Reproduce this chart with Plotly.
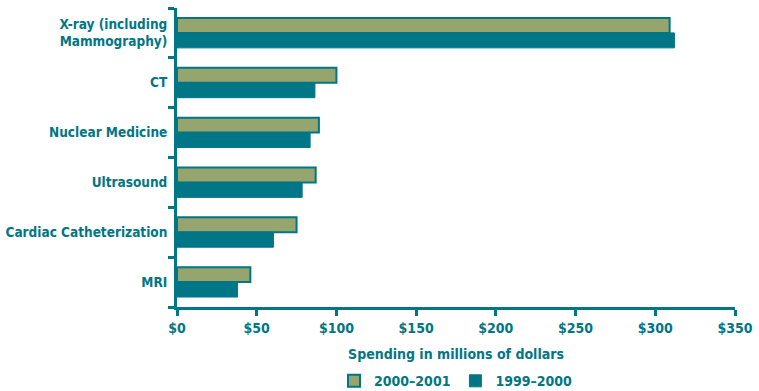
import plotly.graph_objects as go

categories = ["X-ray (including<br>Mammography)", "CT", "Nuclear Medicine", "Ultrasound",
              "Cardiac Catheterization", "MRI"]
spend_2000_2001 = [309, 100, 89, 87, 75, 46]
spend_1999_2000 = [312, 86.5, 83.5, 78.5, 60.5, 38]
x_ticks = [0, 50, 100, 150, 200, 250, 300, 350]
x_tick_labels = ["$0", "$50", "$100", "$150", "$200", "$250", "$300", "$350"]

TEAL = "#007686"
GREEN = "#95A56D"
FONT = "DejaVu Sans Condensed, Roboto, sans-serif"

fig = go.Figure()
fig.add_trace(go.Bar(
    y=categories, x=spend_2000_2001, orientation="h", name="<b>2000–2001</b>",
    marker=dict(color=GREEN, line=dict(color=TEAL, width=2)),
))
fig.add_trace(go.Bar(
    y=categories, x=spend_1999_2000, orientation="h", name="<b>1999–2000</b>",
    marker=dict(color=TEAL, line=dict(color=TEAL, width=1)),
))

fig.update_layout(
    width=759, height=391,
    margin=dict(l=177, r=24, t=8, b=84, autoexpand=False),
    paper_bgcolor="white", plot_bgcolor="white",
    barmode="group", bargap=0.4, bargroupgap=0,
    font=dict(family=FONT, size=13, color=TEAL),
    showlegend=True,
    legend=dict(orientation="h", x=0.50, xanchor="center",
                yref="container", y=0.025, yanchor="middle",
                font=dict(family=FONT, size=14, color=TEAL), traceorder="normal",
                itemwidth=30, tracegroupgap=0),
    xaxis=dict(
        range=[0, 350], tickvals=x_ticks,
        ticktext=["<b>" + t + "</b>" for t in x_tick_labels],
        showgrid=False, zeroline=False, automargin=False,
        showline=True, linecolor=TEAL, linewidth=3,
        ticks="outside", ticklen=6, tickwidth=3, tickcolor=TEAL,
        tickfont=dict(family=FONT, size=14, color=TEAL),
        title=dict(text="<b>Spending in millions of dollars</b>",
                   font=dict(family=FONT, size=14, color=TEAL), standoff=15),
    ),
    yaxis=dict(
        autorange="reversed", showgrid=False, zeroline=False, automargin=False,
        showline=True, linecolor=TEAL, linewidth=3,
        ticks="outside", ticklen=6, tickwidth=3, tickcolor=TEAL,
        tickson="boundaries",
        tickvals=categories,
        ticktext=["<b>" + c + "</b>" for c in categories],
        tickfont=dict(family=FONT, size=13.5, color=TEAL),
        ticklabelstandoff=4,
    ),
)

fig.write_html("out.html")
